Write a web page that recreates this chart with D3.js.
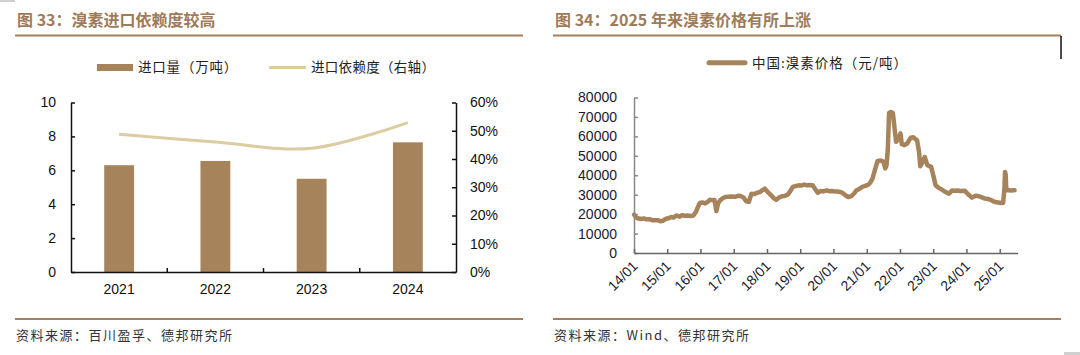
<!DOCTYPE html>
<html><head><meta charset="utf-8">
<script src="https://cdn.jsdelivr.net/npm/d3@7"></script>
<style>
body{margin:0;background:#fff;}
svg{display:block;}
</style></head><body>
<svg id="c" width="1080" height="355"></svg>
<script>
// ---------- data: left chart ----------
const years = ["2021", "2022", "2023", "2024"];
const importVolume = [6.3, 6.55, 5.5, 7.65];          // 万吨
const dependency = [0.488, 0.46, 0.438, 0.529];        // 右轴
const leftTicks = [0, 2, 4, 6, 8, 10];
const rightTicks = [0, 0.1, 0.2, 0.3, 0.4, 0.5, 0.6];

// ---------- data: right chart ----------
const priceDates = [
"2014-01-03","2014-01-24","2014-02-21","2014-03-21","2014-04-18","2014-05-16","2014-06-20","2014-07-18","2014-08-15","2014-09-19","2014-10-17","2014-11-14","2014-12-19",
"2015-01-16","2015-02-13","2015-03-13","2015-04-10","2015-05-15","2015-06-12","2015-07-17","2015-08-14","2015-09-18","2015-10-16","2015-11-13","2015-12-04","2015-12-25",
"2016-01-22","2016-02-19","2016-03-18","2016-04-15","2016-05-13","2016-06-03","2016-06-24","2016-07-15","2016-08-05","2016-09-02","2016-09-30","2016-11-04","2016-12-09",
"2017-01-13","2017-02-17","2017-03-17","2017-04-14","2017-05-19","2017-06-16","2017-07-14","2017-08-18","2017-09-15","2017-10-13","2017-11-10","2017-12-08",
"2018-01-05","2018-02-16","2018-03-16","2018-04-13","2018-05-11","2018-06-15","2018-07-13","2018-08-17","2018-09-14","2018-10-12","2018-11-16","2018-12-14",
"2019-01-11","2019-02-15","2019-03-15","2019-04-12","2019-05-17","2019-06-14","2019-07-12","2019-08-16","2019-09-13","2019-10-18","2019-11-15","2019-12-13",
"2020-01-17","2020-02-14","2020-03-13","2020-04-10","2020-05-15","2020-06-12","2020-07-17","2020-08-14","2020-09-11","2020-10-16","2020-11-13","2020-12-18",
"2021-01-15","2021-02-05","2021-03-05","2021-04-02","2021-04-30","2021-06-04","2021-07-02","2021-07-23","2021-08-06","2021-08-20","2021-09-03","2021-09-24","2021-10-15","2021-10-29","2021-11-19","2021-12-10",
"2022-01-07","2022-01-21","2022-02-18","2022-03-18","2022-04-29","2022-05-27","2022-07-08","2022-07-29","2022-08-12","2022-09-02","2022-09-30","2022-10-28","2022-12-09","2022-12-30",
"2023-01-27","2023-03-03","2023-04-07","2023-05-12","2023-06-23","2023-07-28","2023-08-25","2023-09-22","2023-10-27","2023-12-15",
"2024-01-19","2024-03-01","2024-04-12","2024-05-17","2024-06-21","2024-07-19","2024-08-16","2024-09-13","2024-10-18","2024-11-15","2024-12-13",
"2025-01-17","2025-02-07","2025-02-21","2025-02-28","2025-03-07","2025-03-14","2025-04-04","2025-05-02","2025-05-30","2025-06-13"
];
const prices = [
19700,18300,17700,17500,17800,17300,17400,16900,16800,16900,16300,16600,17600,
17900,18500,18200,19300,18700,19400,19200,19300,19000,19300,21200,23600,25700,
26000,25500,26200,27400,27100,27300,21600,25800,27100,28200,28800,29000,29100,
28900,29400,29300,28700,26600,26300,30500,30300,31000,31300,32300,33100,
31600,29700,28200,27400,28500,29200,29300,30000,31800,34000,34500,34800,
34700,35200,34800,35000,34900,32900,31000,31900,31700,32200,31800,31900,
31700,31600,31400,30900,29600,28800,29300,30600,32300,33100,34000,34600,
35000,36000,38300,43000,47400,47600,47000,43500,45000,53000,72000,72500,72000,66000,57200,58500,
61500,56000,55500,56200,59300,59500,58000,52000,44600,46500,49400,45200,44300,40500,
34800,33500,32600,31500,30500,32200,32000,32100,31900,32000,
30200,28500,29500,29200,28600,28000,27900,27500,26700,26200,26000,
25700,25800,33000,41700,40500,32300,32400,32200,32300,32300
];
const priceTicks = [0, 10000, 20000, 30000, 40000, 50000, 60000, 70000, 80000];
const dateTicks = ["2014-01-01","2015-01-01","2016-01-01","2017-01-01","2018-01-01","2019-01-01","2020-01-01","2021-01-01","2022-01-01","2023-01-01","2024-01-01","2025-01-01"];

// ---------- styles ----------
const BROWN = "#a6835a";
const LIGHT = "#dccca2";
const RULE = "#a67e5d";
const TITLE = "#9f7b59";
const CJK = "'Noto Sans CJK SC','Noto Sans',sans-serif";
const LATIN = "'Liberation Sans',Arial,sans-serif";

const svg = d3.select("#c");
const parse = d3.timeParse("%Y-%m-%d");

// decorative corner bits
svg.append("rect").attr("x",0).attr("y",0).attr("width",15).attr("height",2).attr("fill","#d0d0d0");
svg.append("rect").attr("x",1064).attr("y",352).attr("width",16).attr("height",3).attr("fill","#d0d0d0");

// titles & rules
function header(x, x2, title, source){
  svg.append("text").attr("x", x + 2).attr("y", 26).attr("fill", TITLE)
    .attr("font-family", CJK).attr("font-weight", 700).attr("font-size", 16).text(title);
  svg.append("rect").attr("x", x).attr("y", 34.5).attr("width", x2 - x).attr("height", 2).attr("fill", RULE);
  svg.append("rect").attr("x", x).attr("y", 318).attr("width", x2 - x).attr("height", 2).attr("fill", RULE);
  svg.append("text").attr("x", x + 1).attr("y", 340).attr("fill", "#333")
    .attr("font-family", CJK).attr("font-size", 13).attr("letter-spacing", 1.5).text(source);
}
header(15, 523, "图 33：溴素进口依赖度较高", "资料来源：百川盈孚、德邦研究所");
header(553, 1061, "图 34：2025 年来溴素价格有所上涨", "资料来源：Wind、德邦研究所");
svg.append("line").attr("x1",1061).attr("x2",1061).attr("y1",36).attr("y2",59).attr("stroke","#111").attr("stroke-width",1.5);

// ================= left chart =================
const L0 = 71, L1 = 456, LB = 272, LT = 102.5;
const xL = d3.scaleBand().domain(years).range([L0, L1]).paddingInner(0.69).paddingOuter(0.345);
const yL = d3.scaleLinear().domain([0, 10]).range([LB, LT]);
const yR = d3.scaleLinear().domain([0, 0.6]).range([LB, LT]);

svg.append("g").selectAll("rect").data(years).join("rect")
  .attr("x", d => xL(d)).attr("width", xL.bandwidth())
  .attr("y", (d, i) => yL(importVolume[i]))
  .attr("height", (d, i) => LB - yL(importVolume[i]))
  .attr("fill", BROWN);

const depLine = d3.line()
  .x((d, i) => xL(years[i]) + xL.bandwidth() / 2)
  .y(d => yR(d))
  .curve(d3.curveCardinal);
svg.append("path").datum(dependency).attr("d", depLine)
  .attr("fill", "none").attr("stroke", LIGHT).attr("stroke-width", 3);

function styleAxis(g, color, textColor, size){
  g.select(".domain").attr("stroke", color).attr("stroke-width", 1.5);
  g.selectAll(".tick line").attr("stroke", color).attr("stroke-width", 1.5);
  g.selectAll("text").attr("fill", textColor).attr("font-family", LATIN).attr("font-size", size);
}

const gYL = svg.append("g").attr("transform", `translate(${L0},0)`)
  .call(d3.axisLeft(yL).tickValues(leftTicks).tickSize(-4).tickSizeOuter(0).tickPadding(15));
styleAxis(gYL, "#111", "#111", 14);
const gYR = svg.append("g").attr("transform", `translate(${L1},0)`)
  .call(d3.axisRight(yR).tickValues(rightTicks).tickSize(-4).tickSizeOuter(0).tickPadding(14).tickFormat(d3.format(".0%")));
styleAxis(gYR, "#111", "#111", 14);
const gXL = svg.append("g").attr("transform", `translate(0,${LB})`)
  .call(d3.axisBottom(xL).tickSize(0).tickSizeOuter(0).tickPadding(12));
styleAxis(gXL, "#111", "#111", 14);
// category boundary ticks
const bounds = years.slice(1).map(d => xL(d) - xL.step() * xL.paddingInner() / 2);
svg.append("g").selectAll("line").data(bounds).join("line")
  .attr("x1", d => d).attr("x2", d => d).attr("y1", LB).attr("y2", LB - 4)
  .attr("stroke", "#111").attr("stroke-width", 1.5);

// legend (left)
svg.append("rect").attr("x", 97).attr("y", 64).attr("width", 36).attr("height", 7).attr("fill", BROWN);
svg.append("text").attr("x", 138).attr("y", 72).attr("font-family", CJK).attr("font-size", 13.5)
  .attr("letter-spacing", 0.8).attr("fill", "#222").text("进口量（万吨）");
svg.append("line").attr("x1", 269).attr("x2", 306).attr("y1", 67.5).attr("y2", 67.5)
  .attr("stroke", LIGHT).attr("stroke-width", 3);
svg.append("text").attr("x", 311).attr("y", 72).attr("font-family", CJK).attr("font-size", 13.5)
  .attr("letter-spacing", 0.3).attr("fill", "#222").text("进口依赖度（右轴）");

// ================= right chart =================
const R0 = 634, R1 = 1017.5, RB = 253, RT = 97.5;
const xP = d3.scaleTime().domain([new Date(2014, 0, 1), new Date(2025, 6, 15)]).range([R0, R1]);
const yP = d3.scaleLinear().domain([0, 80000]).range([RB, RT]);

const series = priceDates.map((d, i) => ({date: parse(d), v: prices[i]}));
svg.append("path").datum(series)
  .attr("d", d3.line().x(d => xP(d.date)).y(d => yP(d.v)))
  .attr("fill", "none").attr("stroke", BROWN).attr("stroke-width", 4.5)
  .attr("stroke-linejoin", "round").attr("stroke-linecap", "round");

const gYP = svg.append("g").attr("transform", `translate(${R0},0)`)
  .call(d3.axisLeft(yP).tickValues(priceTicks).tickSize(-4).tickSizeOuter(0).tickPadding(17).tickFormat(d3.format("d")));
styleAxis(gYP, "#888", "#1a1a2a", 14);
const gXP = svg.append("g").attr("transform", `translate(0,${RB})`)
  .call(d3.axisBottom(xP).tickValues(dateTicks.map(parse)).tickSize(-4).tickSizeOuter(0).tickFormat(d3.timeFormat("%y/%m")));
styleAxis(gXP, "#666", "#1a1a2a", 14);
gXP.selectAll("text").attr("text-anchor", "end").attr("y", 0).attr("dy", 0)
  .attr("transform", "translate(4,14) rotate(-45)");

// legend (right)
svg.append("line").attr("x1", 709).attr("x2", 745).attr("y1", 62.7).attr("y2", 62.7)
  .attr("stroke", BROWN).attr("stroke-width", 5).attr("stroke-linecap", "round");
svg.append("text").attr("x", 752).attr("y", 67.5).attr("font-family", CJK).attr("font-size", 13.5)
  .attr("letter-spacing", 1).attr("fill", "#222").text("中国:溴素价格（元/吨）");
</script>
</body></html>
